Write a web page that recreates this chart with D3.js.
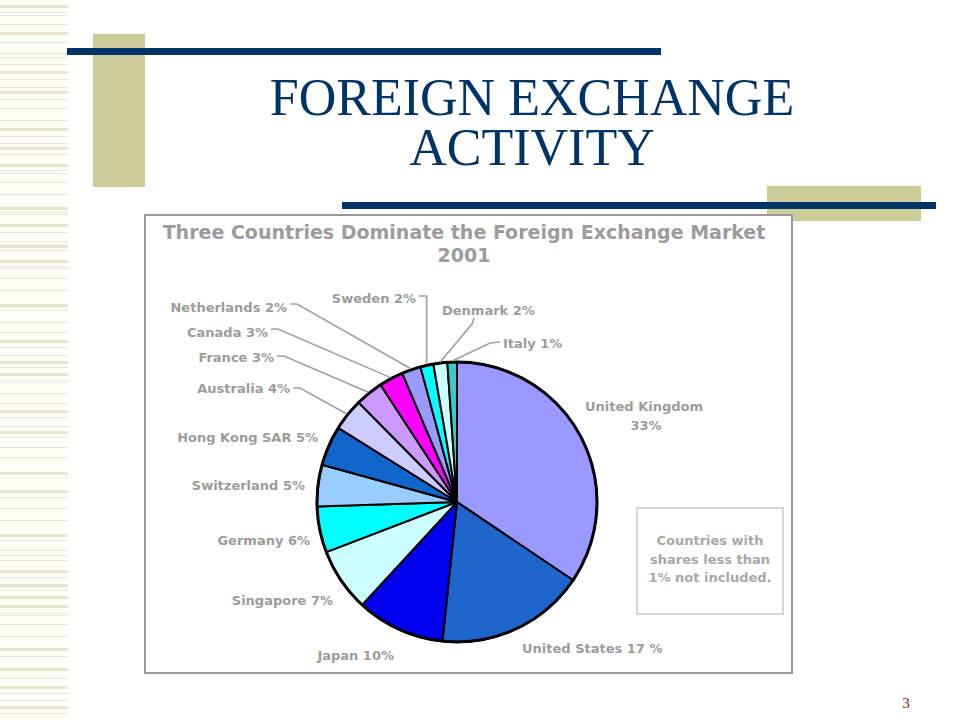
<!DOCTYPE html>
<html>
<head>
<meta charset="utf-8">
<script src="https://cdn.jsdelivr.net/npm/d3@7"></script>
<style>
  html, body { margin: 0; padding: 0; background: #ffffff; }
  svg { display: block; }
</style>
</head>
<body>
<svg id="slide" width="960" height="720"></svg>
<script>
// ---------------- DATA ----------------
const slideTitle = ["FOREIGN EXCHANGE", "ACTIVITY"];
const chartTitle = ["Three Countries Dominate the Foreign Exchange Market", "2001"];
const countries = ["United Kingdom", "United States", "Japan", "Singapore", "Germany",
  "Switzerland", "Hong Kong SAR", "Australia", "France", "Canada",
  "Netherlands", "Sweden", "Denmark", "Italy"];
// slice sizes as drawn
const shares = [34.4, 17.2, 10.2, 7.3, 5.3, 4.8, 4.6, 3.7, 3.2, 2.8, 2.2, 1.5, 1.6, 1.1];
// percentage labels as printed
const shareLabels = ["33%", "17 %", "10%", "7%", "6%", "5%", "5%", "4%", "3%", "3%", "2%", "2%", "2%", "1%"];
const sliceColors = ["#9999ff", "#1f66cc", "#0000ee", "#ccffff", "#00ffff",
  "#99ccff", "#1166cc", "#ccccff", "#cc99ff", "#ff00ff",
  "#9999ff", "#00ffff", "#ccffff", "#33cccc"];
const noteLines = ["Countries with", "shares less than", "1% not included."];
const pageNumber = "3";

// ---------------- LAYOUT ----------------
const W = 960, H = 720;
const pieCx = 457, pieCy = 502, pieR = 140;
// label placement: x, y (baseline), anchor, leader points (near label) before reaching slice edge
const labelLayout = {
  "United Kingdom": { x: 585, y: 411, anchor: "start", second: { x: 646, y: 430 } },
  "United States": { x: 522, y: 653, anchor: "start" },
  "Japan": { x: 394, y: 660, anchor: "end" },
  "Singapore": { x: 333, y: 605, anchor: "end" },
  "Germany": { x: 310, y: 545, anchor: "end" },
  "Switzerland": { x: 305, y: 490, anchor: "end" },
  "Hong Kong SAR": { x: 318, y: 442, anchor: "end" },
  "Australia": { x: 290, y: 393, anchor: "end", leader: [[293, 388], [300, 388]] },
  "France": { x: 274, y: 362, anchor: "end", leader: [[277, 356], [284, 356]] },
  "Canada": { x: 268, y: 337, anchor: "end", leader: [[271, 329], [278, 329]] },
  "Netherlands": { x: 287, y: 312, anchor: "end", leader: [[290, 304], [297, 304]] },
  "Sweden": { x: 416, y: 303, anchor: "end", leader: [[419, 296], ["edge", 296]] },
  "Denmark": { x: 442, y: 315, anchor: "start", leader: [[474, 318], [472, 324]] },
  "Italy": { x: 503, y: 348, anchor: "start", leader: [[500, 342], [490, 343]] }
};

const svg = d3.select("#slide");

// ---------------- SLIDE DECOR ----------------
svg.append("rect").attr("x", 0).attr("y", 0).attr("width", W).attr("height", H).attr("fill", "#ffffff");
svg.append("rect").attr("x", 0).attr("y", 0).attr("width", 68).attr("height", H).attr("fill", "#fffff7");

const thickStripes = [5, 32, 71, 91, 128, 147, 164, 207, 224, 245, 260, 304, 340, 361, 373, 410, 431,
  472, 490, 534, 570, 584, 596, 605, 648, 668, 686, 706];
const thinStripes = [12, 15, 24, 42, 53, 57, 64, 79, 87, 99, 108, 120, 136, 143, 154, 170, 173, 182,
  194, 212, 214, 232, 241, 250, 266, 268, 278, 290, 310, 322, 332, 347, 355, 367, 380, 382, 393, 403,
  417, 426, 437, 447, 457, 477, 497, 508, 520, 540, 550, 555, 560, 577, 590, 613, 615, 624, 636, 656,
  678, 693, 700, 713];
svg.append("g").selectAll("rect").data(thickStripes).join("rect")
  .attr("x", 0).attr("y", d => d).attr("width", 68).attr("height", 3).attr("fill", "#e8e6cf");
svg.append("g").selectAll("rect").data(thinStripes).join("rect")
  .attr("x", 0).attr("y", d => d).attr("width", 68).attr("height", 1).attr("fill", "#e9e8da");

// beige blocks
svg.append("rect").attr("x", 93).attr("y", 34).attr("width", 52).attr("height", 153).attr("fill", "#cccc99");
svg.append("rect").attr("x", 767).attr("y", 186).attr("width", 154).attr("height", 35).attr("fill", "#cccc99");
// navy rules
svg.append("rect").attr("x", 67).attr("y", 48).attr("width", 594).attr("height", 7).attr("fill", "#003366");
svg.append("rect").attr("x", 342).attr("y", 202).attr("width", 594).attr("height", 7).attr("fill", "#003366");

// slide title (one text block, two lines)
const st = svg.append("text")
  .attr("text-anchor", "middle")
  .attr("font-family", "'Liberation Serif', 'Times New Roman', serif")
  .attr("font-size", 52)
  .attr("fill", "#003366");
st.selectAll("tspan").data(slideTitle).join("tspan")
  .attr("x", 532).attr("y", (d, i) => 115 + i * 50)
  .text(d => d);

// page number
svg.append("text").attr("x", 906).attr("y", 708).attr("text-anchor", "middle")
  .attr("font-family", "'Liberation Serif', serif").attr("font-size", 15)
  .attr("fill", "#8b1a1a").text(pageNumber);

// ---------------- CHART ----------------
const chart = svg.append("g");
chart.append("rect").attr("x", 145).attr("y", 215).attr("width", 647).attr("height", 458)
  .attr("fill", "#ffffff").attr("stroke", "#9a9a9a").attr("stroke-width", 2);

const sans = "'DejaVu Sans', Verdana, sans-serif";
const gray = "#9c9c9c";

chart.append("g").selectAll("text").data(chartTitle).join("text")
  .attr("x", 464).attr("y", (d, i) => 239 + i * 23)
  .attr("text-anchor", "middle").attr("font-family", sans).attr("font-weight", "bold")
  .attr("font-size", 19).attr("fill", gray).text(d => d);

const pieData = countries.map((c, i) => ({ name: c, value: shares[i], label: shareLabels[i], color: sliceColors[i] }));
const pie = d3.pie().sort(null).value(d => d.value).startAngle(0).endAngle(2 * Math.PI);
const arcs = pie(pieData);
const arc = d3.arc().innerRadius(0).outerRadius(pieR);
const edgeArc = d3.arc().innerRadius(pieR + 1).outerRadius(pieR + 1);

const pg = chart.append("g").attr("transform", `translate(${pieCx},${pieCy})`);
pg.selectAll("path.slice").data(arcs).join("path")
  .attr("class", "slice")
  .attr("d", arc)
  .attr("fill", d => d.data.color)
  .attr("stroke", "#000").attr("stroke-width", 2).attr("stroke-linejoin", "round");
pg.append("circle").attr("r", pieR).attr("fill", "none").attr("stroke", "#000").attr("stroke-width", 3);

// leader lines
const line = d3.line();
arcs.forEach(a => {
  const L = labelLayout[a.data.name];
  if (!L.leader) return;
  const [ex, ey] = edgeArc.centroid(a);
  const px = ex + pieCx, py = ey + pieCy;
  const pts = L.leader.map(p => [p[0] === "edge" ? px : p[0], p[1]]);
  pts.push([px, py]);
  chart.append("path").attr("d", line(pts)).attr("fill", "none")
    .attr("stroke", "#a0a0a0").attr("stroke-width", 1.6);
});

// labels
arcs.forEach(a => {
  const L = labelLayout[a.data.name];
  const t = chart.append("text").attr("font-family", sans).attr("font-weight", "bold")
    .attr("font-size", 13).attr("fill", gray).attr("text-anchor", L.anchor);
  if (L.second) {
    t.attr("x", L.x).attr("y", L.y).text(a.data.name);
    chart.append("text").attr("font-family", sans).attr("font-weight", "bold")
      .attr("font-size", 13).attr("fill", gray).attr("text-anchor", "middle")
      .attr("x", L.second.x).attr("y", L.second.y).text(a.data.label);
  } else {
    t.attr("x", L.x).attr("y", L.y).text(a.data.name + " " + a.data.label);
  }
});

// note box
chart.append("rect").attr("x", 637).attr("y", 508).attr("width", 146).attr("height", 106)
  .attr("fill", "#ffffff").attr("stroke", "#c8c8c8").attr("stroke-width", 1.5);
chart.append("g").selectAll("text").data(noteLines).join("text")
  .attr("x", 710).attr("y", (d, i) => 545 + i * 18.5)
  .attr("text-anchor", "middle").attr("font-family", sans).attr("font-weight", "bold")
  .attr("font-size", 13).attr("fill", "#a8a8a8").text(d => d);
</script>
</body>
</html>
